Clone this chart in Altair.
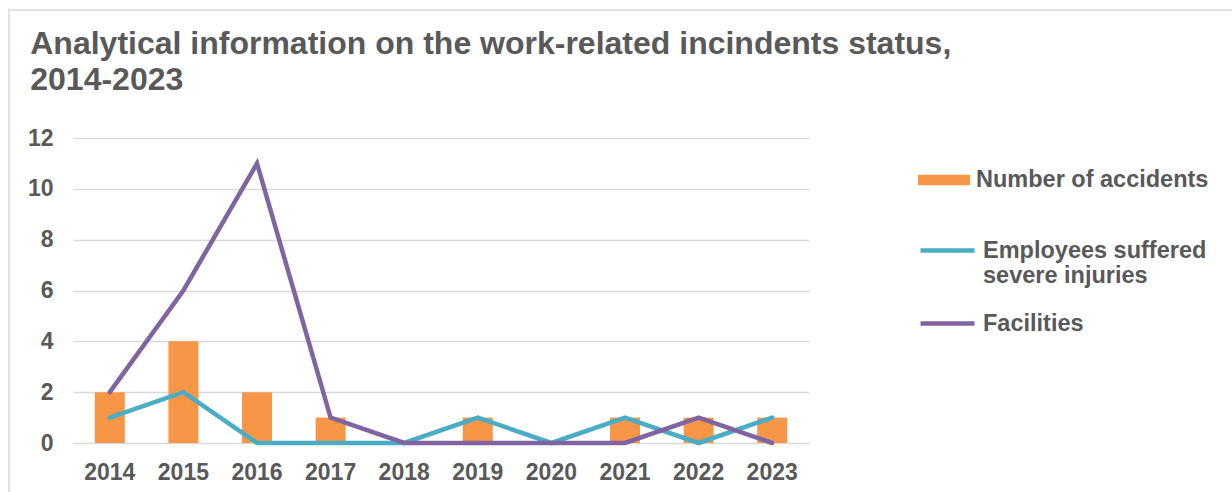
import altair as alt
import pandas as pd

years = ["2014", "2015", "2016", "2017", "2018", "2019", "2020", "2021", "2022", "2023"]
accidents = [2, 4, 2, 1, 0, 1, 0, 1, 1, 1]
injuries = [1, 2, 0, 0, 0, 1, 0, 1, 0, 1]
facilities = [2, 6, 11, 1, 0, 0, 0, 0, 1, 0]

S_ACC = "Number of accidents"
S_INJ = "Employees suffered severe injuries"
S_FAC = "Facilities"

FONT = "Liberation Sans"
GREY = "#595959"

bars_df = pd.DataFrame({"year": years, "value": accidents, "series": S_ACC})
lines_df = pd.concat([
    pd.DataFrame({"year": years, "value": injuries, "series": S_INJ}),
    pd.DataFrame({"year": years, "value": facilities, "series": S_FAC}),
])

x_enc = alt.X("year:O", sort=years, title=None,
              scale=alt.Scale(paddingInner=0.0, paddingOuter=0.0),
              axis=alt.Axis(labelAngle=0, labelFont=FONT, labelFontSize=23, labelFontWeight="bold",
                            labelColor=GREY, labelPadding=18, domain=False, ticks=False, grid=False))
y_enc = alt.Y("value:Q", title=None,
              scale=alt.Scale(domain=[0, 12], nice=False),
              axis=alt.Axis(values=[0, 2, 4, 6, 8, 10, 12], labelFont=FONT, labelFontSize=23,
                            labelFontWeight="bold", labelColor=GREY, labelPadding=20,
                            domain=False, ticks=False, grid=True, gridColor="#d9d9d9", gridWidth=1.5))

border = alt.Chart(pd.DataFrame({"k": [0]})).mark_rect(
    fill=None, stroke="#d9d9d9", strokeWidth=1.5
).encode(x=alt.value(-64), x2=alt.value(1300), y=alt.value(-128), y2=alt.value(600))

bars = alt.Chart(bars_df).mark_bar(size=30).encode(
    x=x_enc,
    y=y_enc,
    fill=alt.Fill("series:N", scale=alt.Scale(domain=[S_ACC], range=["#F79646"]),
                  legend=alt.Legend(title=None, orient="none", legendX=845, legendY=16,
                                    symbolType="M-1,-0.2L1,-0.2L1,0.2L-1,0.2Z", symbolSize=2704,
                                    symbolStrokeWidth=0, labelFont=FONT, labelFontSize=23.5,
                                    labelFontWeight="bold", labelColor=GREY, labelOffset=6,
                                    labelLimit=400)),
)

lines = alt.Chart(lines_df).mark_line(strokeWidth=4.5, strokeCap="round", strokeJoin="miter").encode(
    x=alt.X("year:O", sort=years),
    y=alt.Y("value:Q"),
    stroke=alt.Stroke("series:N", scale=alt.Scale(domain=[S_INJ, S_FAC], range=["#4BACC6", "#8064A2"]),
                      legend=alt.Legend(title=None, orient="none", legendX=845, legendY=83,
                                        symbolType="stroke", symbolSize=2916, symbolStrokeWidth=4.5,
                                        labelFont=FONT, labelFontSize=23.5, labelFontWeight="bold",
                                        labelColor=GREY, labelOffset=6, labelLimit=400,
                                        rowPadding=6,
                                        labelExpr="datum.label == '" + S_INJ + "' ? ['Employees suffered', 'severe injuries'] : datum.label")),
    detail="series:N",
)

chart = alt.layer(border, bars, lines).properties(
    width=736,
    height=305,
    background="white",
    autosize=alt.AutoSizeParams(type="none"),
    padding={"left": 73, "top": 138, "right": 423, "bottom": 49},
    title=alt.Title(["Analytical information on the work-related incindents status,", "2014-2023"],
                    anchor="start", dx=22, dy=88, offset=0, font=FONT, fontSize=32, fontWeight="bold",
                    color=GREY, lineHeight=36),
).configure_view(strokeWidth=0)

chart.save("out.html", embed_options={"renderer": "svg", "actions": False})
